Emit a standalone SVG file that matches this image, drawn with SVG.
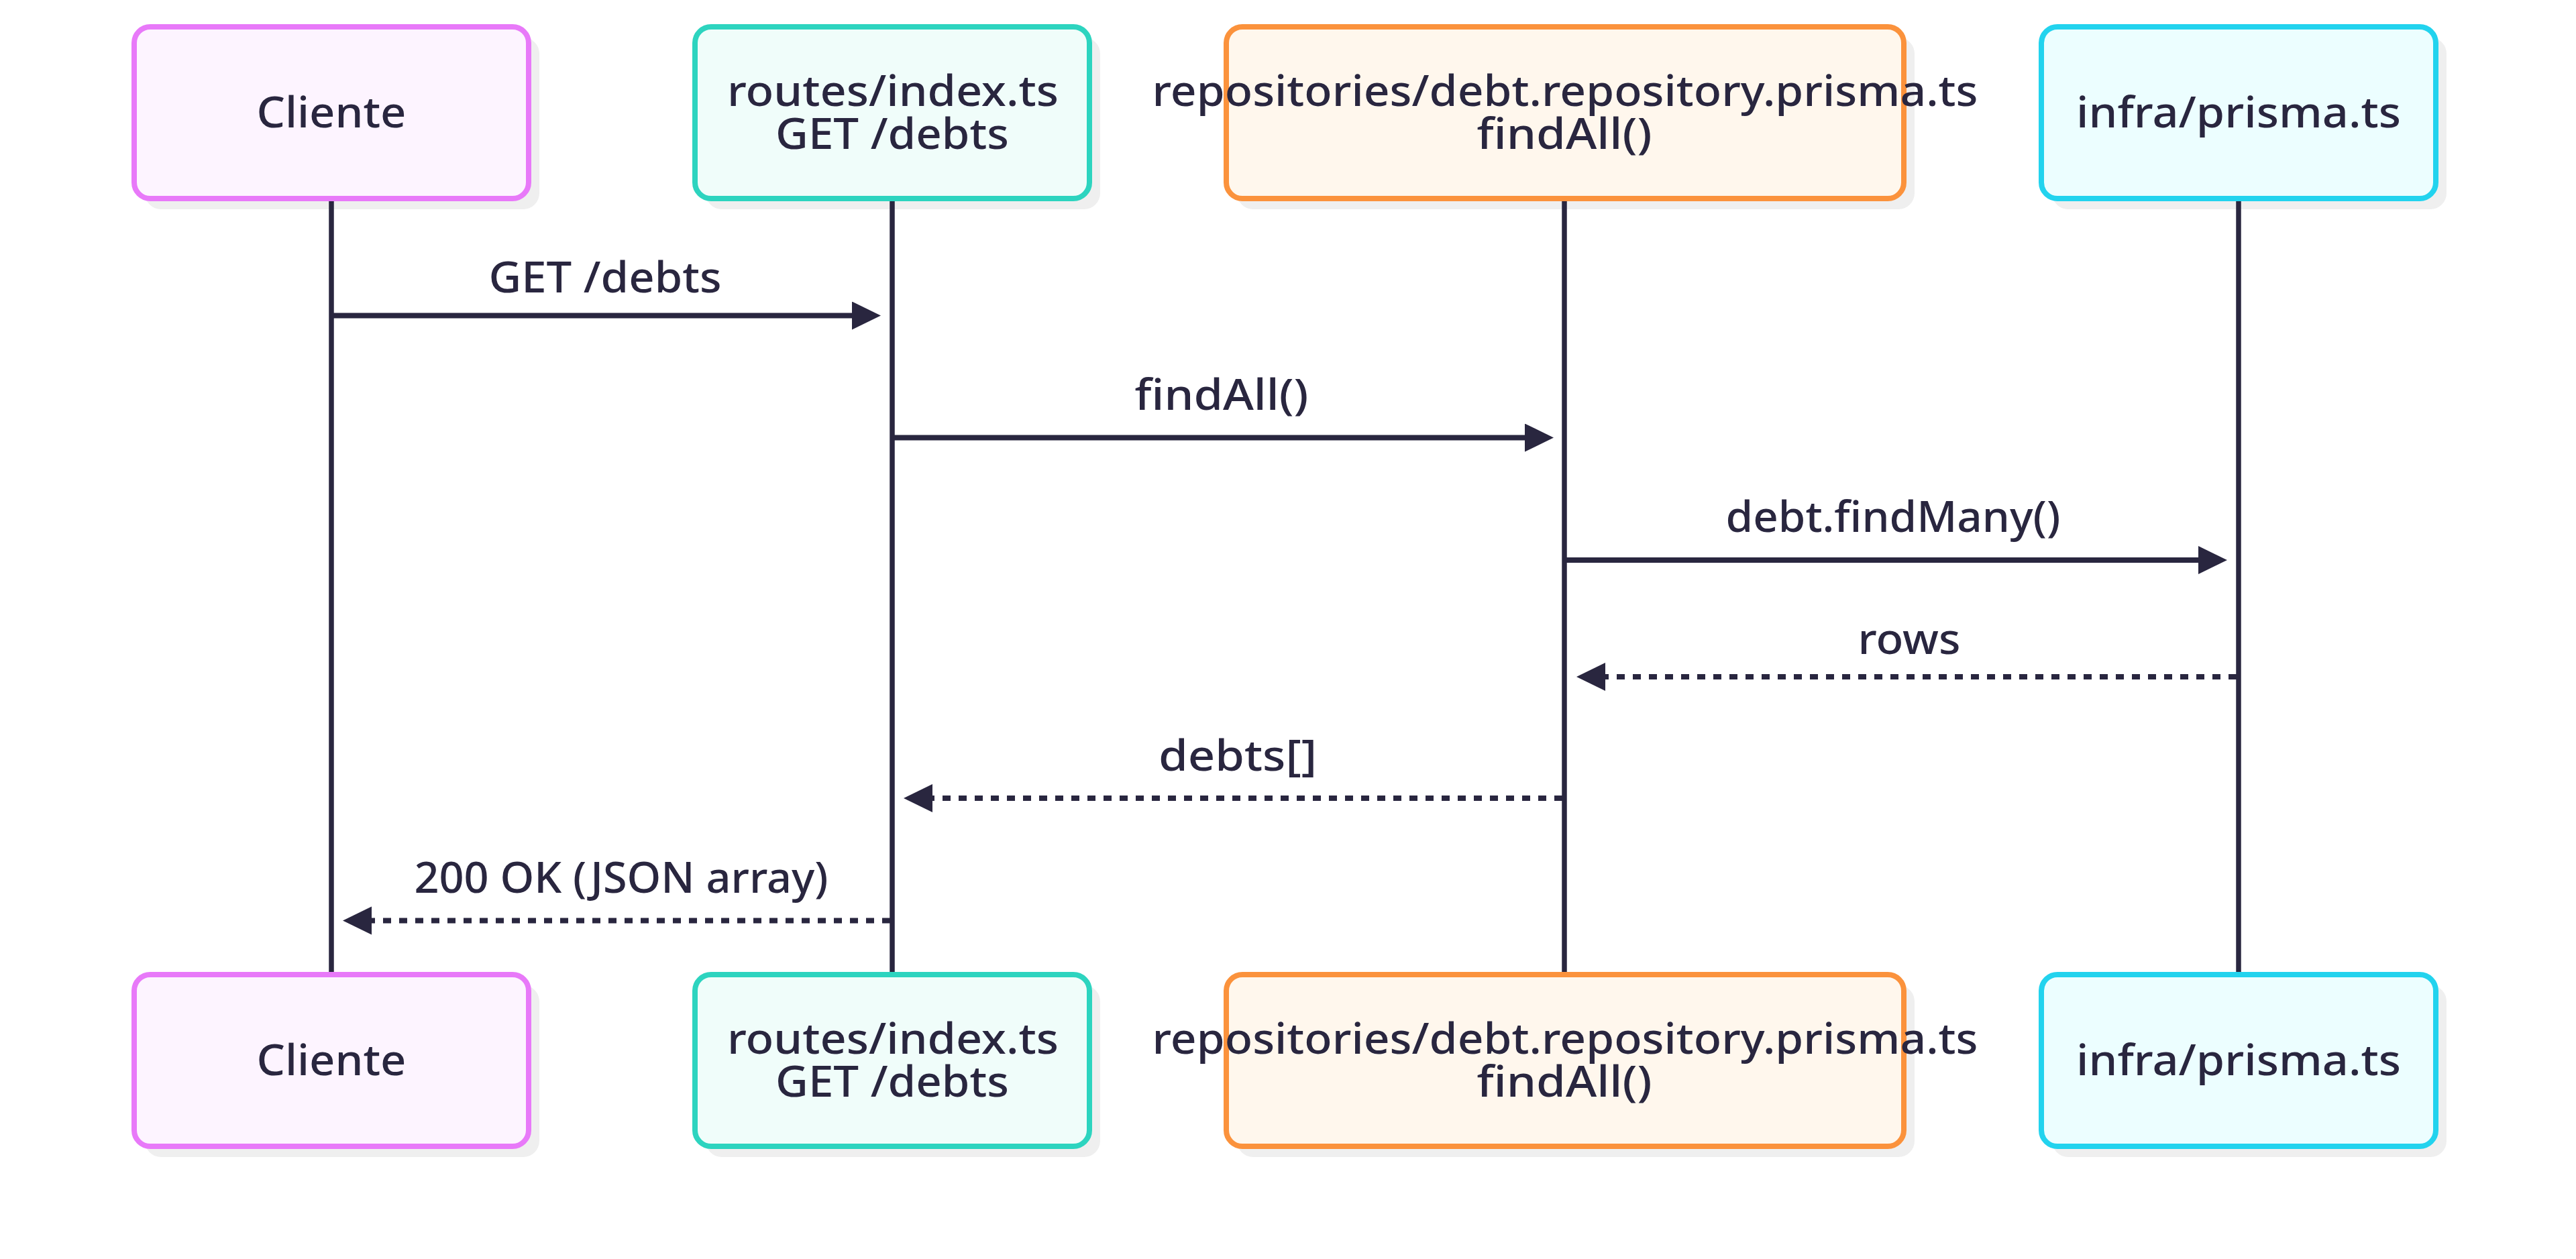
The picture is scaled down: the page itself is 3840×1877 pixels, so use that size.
<svg xmlns="http://www.w3.org/2000/svg" width="3840" height="1877" viewBox="0 0 3840 1877">
  <style>
    .bg { fill: #ffffff; }
    .shadow { fill: #efefef; }
    .box { stroke-width: 8; }
    .cli { fill: #fdf4ff; stroke: #e879f9; }
    .rt { fill: #f0fdfa; stroke: #2dd4bf; }
    .repo { fill: #fff7ed; stroke: #fb923c; }
    .infra { fill: #ecfeff; stroke: #22d3ee; }
    .lbl { font-family: "Noto Sans", "DejaVu Sans", sans-serif; font-size: 64px; font-weight: 500; fill: #29263f; text-anchor: middle; }
    .life { stroke: #29263f; stroke-width: 7.5; fill: none; }
    .msg { stroke: #29263f; stroke-width: 8; fill: none; }
    .dash { stroke-dasharray: 12 12; }
  </style>
  <defs>
    <marker id="arr" markerUnits="userSpaceOnUse" markerWidth="46" markerHeight="44" refX="2" refY="21" orient="auto" viewBox="0 0 46 44">
      <path d="M0,0 L43,21 L0,42 Z" fill="#29263f" stroke="none"/>
    </marker>
  </defs>
  <rect class="bg" x="0" y="0" width="3840" height="1877"/>

  <g id="actor-cliente-top">
    <rect class="shadow" x="216" y="56" width="588" height="256" rx="24"/>
    <rect class="box cli" x="200" y="40" width="588" height="256" rx="24"/>
    <text class="lbl" x="494" y="190" textLength="223" lengthAdjust="spacingAndGlyphs">Cliente</text>
  </g>
  <g id="actor-routes-top">
    <rect class="shadow" x="1052" y="56" width="588" height="256" rx="24"/>
    <rect class="box rt" x="1036" y="40" width="588" height="256" rx="24"/>
    <text class="lbl" x="1331" y="158" textLength="494" lengthAdjust="spacingAndGlyphs">routes/index.ts</text>
    <text class="lbl" x="1330" y="222" textLength="348" lengthAdjust="spacingAndGlyphs">GET /debts</text>
  </g>
  <g id="actor-repo-top">
    <rect class="shadow" x="1844" y="56" width="1010" height="256" rx="24"/>
    <rect class="box repo" x="1828" y="40" width="1010" height="256" rx="24"/>
    <text class="lbl" x="2333" y="158" textLength="1231" lengthAdjust="spacingAndGlyphs">repositories/debt.repository.prisma.ts</text>
    <text class="lbl" x="2332" y="222" textLength="261" lengthAdjust="spacingAndGlyphs">findAll()</text>
  </g>
  <g id="actor-infra-top">
    <rect class="shadow" x="3059" y="56" width="588" height="256" rx="24"/>
    <rect class="box infra" x="3043" y="40" width="588" height="256" rx="24"/>
    <text class="lbl" x="3337" y="190" textLength="484" lengthAdjust="spacingAndGlyphs">infra/prisma.ts</text>
  </g>

  <g id="actor-cliente-bottom">
    <rect class="shadow" x="216" y="1469" width="588" height="256" rx="24"/>
    <rect class="box cli" x="200" y="1453" width="588" height="256" rx="24"/>
    <text class="lbl" x="494" y="1603" textLength="223" lengthAdjust="spacingAndGlyphs">Cliente</text>
  </g>
  <g id="actor-routes-bottom">
    <rect class="shadow" x="1052" y="1469" width="588" height="256" rx="24"/>
    <rect class="box rt" x="1036" y="1453" width="588" height="256" rx="24"/>
    <text class="lbl" x="1331" y="1571" textLength="494" lengthAdjust="spacingAndGlyphs">routes/index.ts</text>
    <text class="lbl" x="1330" y="1635" textLength="348" lengthAdjust="spacingAndGlyphs">GET /debts</text>
  </g>
  <g id="actor-repo-bottom">
    <rect class="shadow" x="1844" y="1469" width="1010" height="256" rx="24"/>
    <rect class="box repo" x="1828" y="1453" width="1010" height="256" rx="24"/>
    <text class="lbl" x="2333" y="1571" textLength="1231" lengthAdjust="spacingAndGlyphs">repositories/debt.repository.prisma.ts</text>
    <text class="lbl" x="2332" y="1635" textLength="261" lengthAdjust="spacingAndGlyphs">findAll()</text>
  </g>
  <g id="actor-infra-bottom">
    <rect class="shadow" x="3059" y="1469" width="588" height="256" rx="24"/>
    <rect class="box infra" x="3043" y="1453" width="588" height="256" rx="24"/>
    <text class="lbl" x="3337" y="1603" textLength="484" lengthAdjust="spacingAndGlyphs">infra/prisma.ts</text>
  </g>

  <g id="lifelines">
    <line class="life" x1="494" y1="300" x2="494" y2="1449"/>
    <line class="life" x1="1330" y1="300" x2="1330" y2="1449"/>
    <line class="life" x1="2332" y1="300" x2="2332" y2="1449"/>
    <line class="life" x1="3337" y1="300" x2="3337" y2="1449"/>
  </g>

  <g id="connectors">
    <line class="msg" x1="494" y1="470.5" x2="1272" y2="470.5" marker-end="url(#arr)"/>
    <text class="lbl" x="902" y="436" textLength="347" lengthAdjust="spacingAndGlyphs">GET /debts</text>

    <line class="msg" x1="1330" y1="652.5" x2="2275" y2="652.5" marker-end="url(#arr)"/>
    <text class="lbl" x="1821" y="611" textLength="259" lengthAdjust="spacingAndGlyphs">findAll()</text>

    <line class="msg" x1="2332" y1="835" x2="3279" y2="835" marker-end="url(#arr)"/>
    <text class="lbl" x="2822" y="793" textLength="499" lengthAdjust="spacingAndGlyphs">debt.findMany()</text>

    <line class="msg dash" x1="3334" y1="1009" x2="2391" y2="1009" marker-end="url(#arr)"/>
    <text class="lbl" x="2846" y="975" textLength="153" lengthAdjust="spacingAndGlyphs">rows</text>

    <line class="msg dash" x1="2329" y1="1190" x2="1388" y2="1190" marker-end="url(#arr)"/>
    <text class="lbl" x="1845" y="1149" textLength="236" lengthAdjust="spacingAndGlyphs">debts[]</text>

    <line class="msg dash" x1="1327" y1="1372.5" x2="552" y2="1372.5" marker-end="url(#arr)"/>
    <text class="lbl" x="926" y="1331" textLength="617" lengthAdjust="spacingAndGlyphs">200 OK (JSON array)</text>
  </g>
</svg>
